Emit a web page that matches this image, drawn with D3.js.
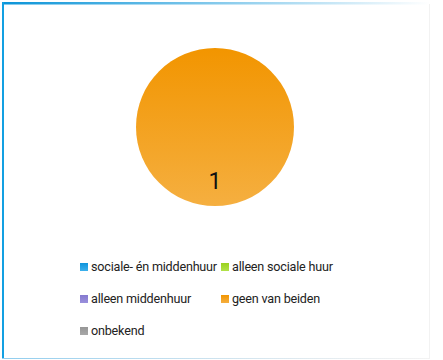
<!DOCTYPE html>
<html>
<head>
<meta charset="utf-8">
<script src="https://cdn.jsdelivr.net/npm/d3@7"></script>
<style>
html,body{margin:0;padding:0;background:#fff;}
svg{display:block;}
text{font-family:Roboto, "Noto Sans", sans-serif;}
</style>
</head>
<body>
<svg id="chart" width="443" height="360"></svg>
<script>
const categories = ["sociale- én middenhuur", "alleen sociale huur", "alleen middenhuur", "geen van beiden", "onbekend"];
const values = [0, 0, 0, 1, 0];
const colorsTop = ["#0f94dc", "#9ad11e", "#8579cf", "#f29500", "#969696"];
const colorsBottom = ["#3cb0ec", "#b2e24a", "#9a90dc", "#f5af40", "#a8a8a8"];

const svg = d3.select("#chart");
const defs = svg.append("defs");

// frame gradients
const gTop = defs.append("linearGradient").attr("id","gTop").attr("x1","0").attr("x2","1").attr("y1","0").attr("y2","0");
gTop.append("stop").attr("offset","0").attr("stop-color","#0a94d8");
gTop.append("stop").attr("offset","1").attr("stop-color","#0a94d8").attr("stop-opacity","0");
const gBot = defs.append("linearGradient").attr("id","gBot").attr("x1","0").attr("x2","1").attr("y1","0").attr("y2","0");
gBot.append("stop").attr("offset","0").attr("stop-color","#8fcdef");
gBot.append("stop").attr("offset","1").attr("stop-color","#e0e0e0").attr("stop-opacity","0.4");

svg.append("rect").attr("x",2).attr("y",2).attr("width",428).attr("height",2.5).attr("fill","url(#gTop)");
svg.append("rect").attr("x",2).attr("y",2).attr("width",2).attr("height",357).attr("fill","#13a0e2");
svg.append("rect").attr("x",2).attr("y",358).attr("width",428).attr("height",1).attr("fill","url(#gBot)");
svg.append("rect").attr("x",429).attr("y",4).attr("width",1).attr("height",355).attr("fill","#f2f2f2");

// slice gradients
categories.forEach((c,i)=>{
  const g = defs.append("linearGradient").attr("id","sg"+i).attr("x1","0").attr("x2","0").attr("y1","0").attr("y2","1");
  g.append("stop").attr("offset","0").attr("stop-color",colorsTop[i]);
  g.append("stop").attr("offset","1").attr("stop-color",colorsBottom[i]);
});

const cx = 215, cy = 127, r = 79;
const pie = d3.pie().sort(null).value(d=>d.v);
const data = categories.map((c,i)=>({c, v: values[i], i}));
const arcs = pie(data).filter(d=>d.data.v>0);
const arc = d3.arc().innerRadius(0).outerRadius(r);
const labelArc = d3.arc().innerRadius(r*0.7).outerRadius(r*0.7);

const g = svg.append("g").attr("transform",`translate(${cx},${cy})`);
g.selectAll("path").data(arcs).join("path")
  .attr("d",arc)
  .attr("fill",d=>`url(#sg${d.data.i})`);

g.selectAll("text.lbl").data(arcs).join("text")
  .attr("class","lbl")
  .attr("x",d=>{
    if (d.endAngle - d.startAngle >= 2*Math.PI - 1e-6) return 0;
    return labelArc.centroid(d)[0];
  })
  .attr("y",d=>{
    if (d.endAngle - d.startAngle >= 2*Math.PI - 1e-6) return 62;
    return labelArc.centroid(d)[1];
  })
  .attr("text-anchor","middle")
  .attr("font-size","23px")
  .attr("fill","#111")
  .text(d=>d.data.v);

// legend
const colX = [80, 221];
const rowY = [267, 299, 331];
const lg = svg.append("g");
data.forEach((d,i)=>{
  const x = colX[i%2], y = rowY[Math.floor(i/2)];
  const item = lg.append("g").attr("transform",`translate(${x},${y})`);
  item.append("rect").attr("x",0).attr("y",-4).attr("width",8).attr("height",8).attr("fill",`url(#sg${i})`);
  item.append("text").attr("x",11).attr("y",0).attr("dy","0.35em")
    .attr("font-size","12.6px").attr("letter-spacing","-0.2px").attr("fill","#222").text(d.c);
});
</script>
</body>
</html>
